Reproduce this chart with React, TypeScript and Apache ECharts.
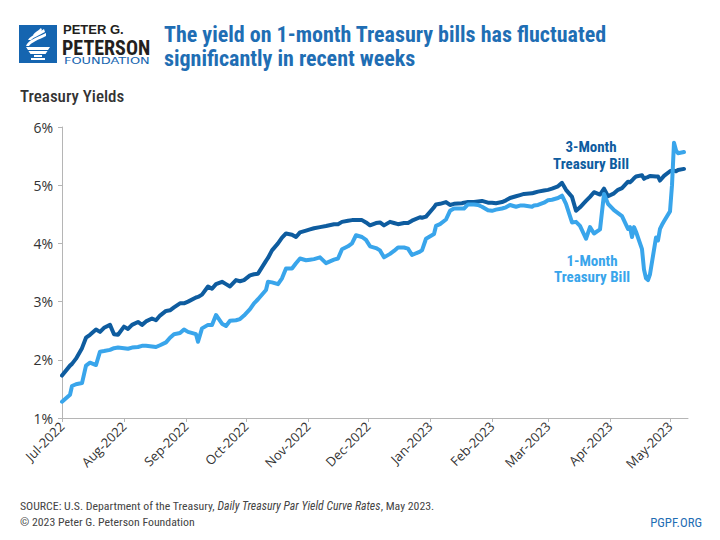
import React, { useEffect, useRef } from "react";
import * as echarts from "echarts";

const FF = "'Liberation Sans Narrow', 'Roboto Condensed', 'DejaVu Sans Condensed', Roboto, sans-serif";
const FA = "'Open Sans', 'Noto Sans', 'Liberation Sans', sans-serif";

const MONTHS = ["Jan", "Feb", "Mar", "Apr", "May", "Jun", "Jul", "Aug", "Sep", "Oct", "Nov", "Dec"];

const startDate = "2022-07-01";
const endDate = "2023-05-10";

const monthTicks = [
  "2022-07-01", "2022-08-01", "2022-09-01", "2022-10-01", "2022-11-01", "2022-12-01",
  "2023-01-01", "2023-02-01", "2023-03-01", "2023-04-01", "2023-05-01",
];

const dates = [
  "2022-07-01", "2022-07-05", "2022-07-06", "2022-07-08", "2022-07-11", "2022-07-13", "2022-07-15",
  "2022-07-18", "2022-07-20", "2022-07-22", "2022-07-25", "2022-07-27", "2022-07-29",
  "2022-08-01", "2022-08-03", "2022-08-05", "2022-08-08", "2022-08-10", "2022-08-12", "2022-08-15",
  "2022-08-17", "2022-08-19", "2022-08-22", "2022-08-24", "2022-08-26", "2022-08-29", "2022-08-31",
  "2022-09-02", "2022-09-06", "2022-09-07", "2022-09-09", "2022-09-12", "2022-09-14", "2022-09-16",
  "2022-09-19", "2022-09-21", "2022-09-23", "2022-09-26", "2022-09-28", "2022-09-30",
  "2022-10-03", "2022-10-05", "2022-10-07", "2022-10-11", "2022-10-12", "2022-10-14", "2022-10-17",
  "2022-10-19", "2022-10-21", "2022-10-24", "2022-10-26", "2022-10-28", "2022-10-31",
  "2022-11-02", "2022-11-04", "2022-11-07", "2022-11-10", "2022-11-14", "2022-11-16", "2022-11-18",
  "2022-11-21", "2022-11-23", "2022-11-25", "2022-11-28", "2022-11-30",
  "2022-12-02", "2022-12-05", "2022-12-07", "2022-12-09", "2022-12-12", "2022-12-14", "2022-12-16",
  "2022-12-19", "2022-12-21", "2022-12-23", "2022-12-27", "2022-12-28", "2022-12-30",
  "2023-01-03", "2023-01-04", "2023-01-06", "2023-01-09", "2023-01-11", "2023-01-13", "2023-01-17",
  "2023-01-18", "2023-01-20", "2023-01-23", "2023-01-25", "2023-01-27", "2023-01-30",
  "2023-02-01", "2023-02-03", "2023-02-06", "2023-02-08", "2023-02-10", "2023-02-13", "2023-02-15",
  "2023-02-17", "2023-02-21", "2023-02-22", "2023-02-24", "2023-02-27",
  "2023-03-01", "2023-03-03", "2023-03-06", "2023-03-08", "2023-03-10", "2023-03-13", "2023-03-15",
  "2023-03-17", "2023-03-20", "2023-03-22", "2023-03-24", "2023-03-27", "2023-03-29", "2023-03-31",
  "2023-04-03", "2023-04-05", "2023-04-07", "2023-04-10", "2023-04-11", "2023-04-12", "2023-04-13",
  "2023-04-14", "2023-04-17", "2023-04-18", "2023-04-19", "2023-04-20", "2023-04-21", "2023-04-24",
  "2023-04-25", "2023-04-26", "2023-04-27", "2023-04-28",
  "2023-05-01", "2023-05-02", "2023-05-03", "2023-05-04", "2023-05-05", "2023-05-08",
];

const threeMonth = [
  1.73, 1.90, 1.93, 2.02, 2.20, 2.38, 2.43,
  2.52, 2.48, 2.55, 2.60, 2.44, 2.43,
  2.57, 2.53, 2.60, 2.65, 2.60, 2.66, 2.71,
  2.68, 2.76, 2.84, 2.85, 2.90, 2.97, 2.97,
  3.00, 3.07, 3.08, 3.12, 3.26, 3.22, 3.30,
  3.34, 3.30, 3.26, 3.37, 3.35, 3.37,
  3.45, 3.47, 3.48, 3.70, 3.75, 3.88, 4.00,
  4.10, 4.17, 4.15, 4.11, 4.19, 4.22,
  4.24, 4.26, 4.28, 4.30, 4.33, 4.33, 4.37,
  4.39, 4.40, 4.40, 4.40, 4.36,
  4.31, 4.35, 4.36, 4.31, 4.37, 4.35, 4.33,
  4.35, 4.35, 4.39, 4.45, 4.44, 4.46,
  4.62, 4.67, 4.68, 4.71, 4.66, 4.68, 4.69,
  4.70, 4.71, 4.71, 4.72, 4.73, 4.70,
  4.70, 4.69, 4.71, 4.74, 4.78, 4.81, 4.83,
  4.85, 4.86, 4.87, 4.89, 4.91,
  4.92, 4.94, 4.98, 5.04, 4.92, 4.80, 4.56,
  4.62, 4.73, 4.80, 4.88, 4.84, 4.94, 4.81,
  4.86, 4.92, 4.95, 5.06, 5.05, 5.08, 5.12,
  5.15, 5.17, 5.11, 5.13, 5.14, 5.16, 5.15,
  5.15, 5.08, 5.12, 5.16,
  5.24, 5.25, 5.25, 5.24, 5.26, 5.28,
];

const oneMonth = [
  1.28, 1.40, 1.55, 1.58, 1.60, 1.90, 1.95,
  1.91, 2.14, 2.15, 2.17, 2.20, 2.21,
  2.20, 2.19, 2.21, 2.22, 2.24, 2.24, 2.23,
  2.22, 2.25, 2.30, 2.38, 2.44, 2.46, 2.52,
  2.48, 2.44, 2.31, 2.54, 2.60, 2.60, 2.77,
  2.62, 2.58, 2.67, 2.68, 2.70, 2.76,
  2.87, 2.97, 3.04, 3.20, 3.34, 3.33, 3.30,
  3.40, 3.57, 3.57, 3.66, 3.74, 3.71,
  3.72, 3.73, 3.76, 3.66, 3.72, 3.74, 3.90,
  3.95, 4.00, 4.14, 4.11, 4.06,
  3.95, 3.92, 3.88, 3.76, 3.82, 3.87, 3.93,
  3.93, 3.91, 3.80, 3.86, 3.88, 4.08,
  4.16, 4.30, 4.33, 4.41, 4.56, 4.60, 4.60,
  4.60, 4.67, 4.67, 4.66, 4.63, 4.57,
  4.56, 4.58, 4.60, 4.62, 4.66, 4.63, 4.65,
  4.65, 4.63, 4.65, 4.66, 4.70,
  4.74, 4.75, 4.78, 4.82, 4.68, 4.36, 4.37,
  4.30, 4.08, 4.28, 4.17, 4.24, 4.85, 4.68,
  4.57, 4.52, 4.47, 4.25, 4.28, 4.11, 4.28,
  4.20, 3.90, 3.55, 3.40, 3.37, 3.47, 4.10,
  4.05, 4.25, 4.32, 4.38,
  4.55, 5.00, 5.73, 5.60, 5.55, 5.57,
];

const yMin = 1;
const yMax = 6;
const yStep = 1;

const DAY = 86400000;
const utc = (s: string) => {
  const [y, m, d] = s.split("-").map(Number);
  return Date.UTC(y, m - 1, d);
};
const dayOf = (s: string) => Math.round((utc(s) - utc(startDate)) / DAY);

const TORCH =
  "M7,21 C9,15 17,13 27,8 L27,11 C19,15 13,17 10,21 Z " +
  "M9,15 C12,10 18,9 25,4 L26,7 C19,11 15,12 12,15 Z " +
  "M14,10 C16,7 19,6 22,3 L23,5 C20,8 18,9 16,11 Z " +
  "M7,22 L31,22 L29,25 L9,25 Z " +
  "M9.5,26 L28.5,26 L26.5,29 L11.5,29 Z " +
  "M15,30 L23,30 L23,32 L15,32 Z " +
  "M12,33 L26,33 L26,35 L12,35 Z";

let registered = false;

const DARK = "#0e5c9f";
const LIGHT = "#39a5eb";
const TITLE = "#1f6eb4";

export default function App() {
  const ref = useRef<HTMLDivElement>(null);

  useEffect(() => {
    document.body.style.margin = "0";
    if (!registered) {
      echarts.graphic.registerShape("torch", echarts.graphic.extendPath(TORCH, {}) as any);
      registered = true;
    }
    const chart = echarts.init(ref.current!, undefined, { renderer: "svg" });
    const tickDays = monthTicks.map(dayOf);
    const fmt = (v: number) => {
      const d = new Date(utc(startDate) + Math.round(v) * DAY);
      return `${MONTHS[d.getUTCMonth()]}-${d.getUTCFullYear()}`;
    };

    const option: any = {
      animation: false,
      backgroundColor: "#ffffff",
      grid: { left: 62, right: 32, top: 127, bottom: 122 },
      xAxis: {
        type: "value",
        min: 0,
        max: dayOf(endDate),
        axisLine: { show: true, lineStyle: { color: "#b5b5b5", width: 1 } },
        axisTick: { show: true, customValues: tickDays, length: 4, lineStyle: { color: "#b5b5b5" } },
        axisLabel: {
          customValues: tickDays,
          formatter: fmt,
          rotate: 45,
          fontSize: 13,
          color: "#333",
          fontFamily: FA,
          margin: 6,
          showMinLabel: true,
          showMaxLabel: true,
        },
        splitLine: { show: false },
      },
      yAxis: {
        type: "value",
        min: yMin,
        max: yMax,
        interval: yStep,
        axisLine: { show: true, lineStyle: { color: "#b5b5b5", width: 1 } },
        axisTick: { show: true, length: 4, lineStyle: { color: "#b5b5b5" } },
        axisLabel: { formatter: "{value}%", fontSize: 14, color: "#333", fontFamily: FA, margin: 9 },
        splitLine: { show: false },
      },
      series: [
        {
          name: "3-Month Treasury Bill",
          type: "line",
          data: dates.map((d, i) => [dayOf(d), threeMonth[i]]),
          showSymbol: false,
          lineStyle: { color: DARK, width: 4, cap: "round", join: "round" },
          z: 2,
        },
        {
          name: "1-Month Treasury Bill",
          type: "line",
          data: dates.map((d, i) => [dayOf(d), oneMonth[i]]),
          showSymbol: false,
          lineStyle: { color: LIGHT, width: 4, cap: "round", join: "round" },
          z: 3,
        },
      ],
      graphic: [
        { type: "rect", shape: { x: 19, y: 25, width: 38, height: 38 }, style: { fill: "#1565b0" } },
        { type: "torch", x: 19, y: 25, style: { fill: "#ffffff" } },
        {
          type: "text", x: 63, y: 29.5,
          style: { text: "PETER G.", fill: "#231f20", fontSize: 13, lineHeight: 11, fontWeight: "bold", fontFamily: "'Liberation Sans', Arial, sans-serif", verticalAlign: "middle", textVerticalAlign: "middle" },
        },
        {
          type: "text", x: 62, y: 47.5,
          style: { text: "PETERSON", fill: "#231f20", fontSize: 20, lineHeight: 16, fontWeight: "bold", fontFamily: FF, verticalAlign: "middle", textVerticalAlign: "middle" },
        },
        {
          type: "text", x: 64, y: 61, scaleX: 1.36, originX: 0, originY: 0,
          style: { text: "FOUNDATION", fill: "#1565b0", fontSize: 9.5, lineHeight: 8, fontFamily: "'DejaVu Sans', sans-serif", verticalAlign: "middle", textVerticalAlign: "middle" },
        },
        {
          type: "text", x: 164, y: 34,
          style: { text: "The yield on 1-month Treasury bills has fluctuated", fill: TITLE, fontSize: 22, fontWeight: "bold", fontFamily: FF, verticalAlign: "middle", textVerticalAlign: "middle" },
        },
        {
          type: "text", x: 164, y: 58,
          style: { text: "significantly in recent weeks", fill: TITLE, fontSize: 22, fontWeight: "bold", fontFamily: FF, verticalAlign: "middle", textVerticalAlign: "middle" },
        },
        {
          type: "text", x: 20, y: 96,
          style: { text: "Treasury Yields", fill: "#333", fontSize: 17, fontWeight: 500, fontFamily: FF, verticalAlign: "middle", textVerticalAlign: "middle" },
        },
        {
          type: "text", x: 591, y: 155.5,
          style: { text: "3-Month\nTreasury Bill", fill: DARK, fontSize: 15, lineHeight: 17, fontWeight: "bold", fontFamily: FF, align: "center", textAlign: "center", verticalAlign: "middle", textVerticalAlign: "middle" },
        },
        {
          type: "text", x: 592, y: 269,
          style: { text: "1-Month\nTreasury Bill", fill: LIGHT, fontSize: 15, lineHeight: 16.5, fontWeight: "bold", fontFamily: FF, align: "center", textAlign: "center", verticalAlign: "middle", textVerticalAlign: "middle" },
        },
        {
          type: "text", x: 20, y: 506,
          style: {
            text: "{n|SOURCE: U.S. Department of the Treasury, }{i|Daily Treasury Par Yield Curve Rates}{n|, May 2023.}",
            verticalAlign: "middle", textVerticalAlign: "middle",
            rich: {
              n: { fontSize: 11.8, fill: "#444", fontFamily: FF },
              i: { fontSize: 11.8, fill: "#444", fontFamily: FF, fontStyle: "italic" },
            },
          },
        },
        {
          type: "text", x: 20, y: 522,
          style: { text: "© 2023 Peter G. Peterson Foundation", fill: "#444", fontSize: 11.8, fontFamily: FF, verticalAlign: "middle", textVerticalAlign: "middle" },
        },
        {
          type: "text", x: 702, y: 522,
          style: { text: "PGPF.ORG", fill: TITLE, fontSize: 12.8, fontFamily: FF, align: "right", textAlign: "right", verticalAlign: "middle", textVerticalAlign: "middle" },
        },
      ],
    };
    chart.setOption(option);
    return () => chart.dispose();
  }, []);

  return (
    <div
      ref={ref}
      style={{ position: "fixed", left: 0, top: 0, width: 720, height: 540, background: "#fff" }}
    />
  );
}
